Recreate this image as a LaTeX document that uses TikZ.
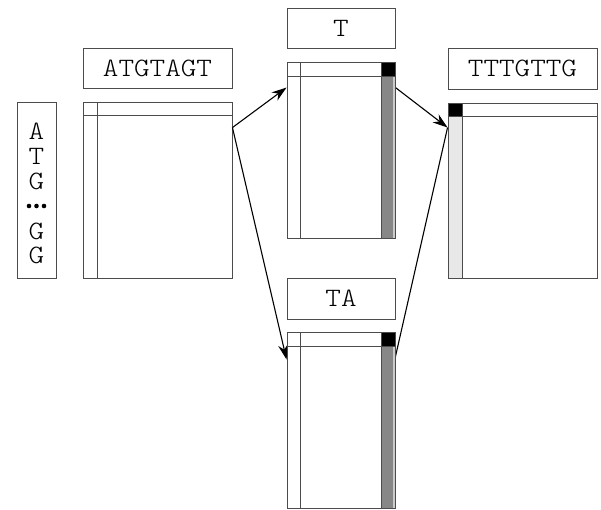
\documentclass[tikz,border=0pt]{standalone}
\usepackage{fontspec}
\setmonofont[FakeStretch=1.12]{Latin Modern Mono Light}
\usetikzlibrary{arrows.meta,calc}

\definecolor{edge}{gray}{0.3}
\definecolor{darkcol}{gray}{0.53}
\definecolor{lightcol}{gray}{0.91}

\tikzset{
  frame/.style={draw=edge, line width=0.9pt, rectangle, inner sep=0pt},
  seqfont/.style={font=\ttfamily\fontsize{26.5}{26.5}\selectfont},
  seqbox/.style={frame, seqfont},
  grid/.style={draw=edge, line width=0.9pt},
  link/.style={draw=black, line width=1.1pt},
  linkarrow/.style={link, -{Stealth[length=15pt,width=10pt]}},
}

\begin{document}
\begin{tikzpicture}[x=1pt,y=-1pt]
\useasboundingbox (0,0) rectangle (601,510);

% sequence labels above the matrices
\node[seqbox, minimum width=149pt, minimum height=40pt] (l1) at (157.5,68) {ATGTAGT};
\node[seqbox, minimum width=108pt, minimum height=40pt] (l2) at (341,28) {T};
\node[seqbox, minimum width=149pt, minimum height=41pt] (l3) at (522.5,68.5) {TTTGTTG};
\node[seqbox, minimum width=108pt, minimum height=41pt] (l4) at (341,298.5) {TA};

% vertical sequence on the left
\node[frame, minimum width=39pt, minimum height=176pt] (col) at (36.5,190) {};
\foreach \ch/\yy in {A/131,T/156,G/181,G/231,G/255}
  \node[seqfont, inner sep=0pt] at (36.5,\yy) {\ch};
\foreach \xx in {29,36.5,44}
  \fill (\xx,206) circle (2.3pt);

% matrix outlines (nodes used as anchors for the connectors)
\node[frame, minimum width=149pt, minimum height=176pt] (m1) at (157.5,190) {};
\node[frame, minimum width=108pt, minimum height=176pt] (m2) at (341,150) {};
\node[frame, minimum width=149pt, minimum height=175pt] (m3) at (522.5,190.5) {};
\node[frame, minimum width=108pt, minimum height=176pt] (m4) at (341,420) {};

% connectors
\coordinate (o1) at ($(m1.north east)+(0,26)$);
\coordinate (i2) at ($(m2.north west)+(0,26)$);
\coordinate (i4) at ($(m4.north west)+(0,28)$);
\coordinate (o2) at ($(m2.north east)+(0,26)$);
\coordinate (o4) at ($(m4.north east)+(0,25)$);
\coordinate (i3) at ($(m3.north west)+(0,25)$);
\draw[linkarrow] (o1) -- (i2);
\draw[linkarrow] (o1) -- (i4);
\draw[link] (o4) -- (i3);
\draw[linkarrow] (o2) -- (i3);

% matrix 1: first row and column
\draw[grid] (83,115) -- (232,115);
\draw[grid] (97,102) -- (97,278);

% matrix 2 and 4: last column shaded, corner cell black
\foreach \top in {62,332}{
  \fill[darkcol] (381,\top+14) rectangle (392.5,\top+176);
  \fill[lightcol!70!darkcol] (392.5,\top+14) rectangle (395,\top+176);
  \fill[black] (381,\top) rectangle (395,\top+14);
  \draw[grid] (287,\top+14) -- (395,\top+14);
  \draw[grid] (300,\top) -- (300,\top+176);
  \draw[grid] (381,\top) -- (381,\top+176);
  \draw[frame] (287,\top) rectangle (395,\top+176);
}

% matrix 3: first column shaded, corner cell black
\fill[lightcol] (448,116) rectangle (462,278);
\fill[black] (448,103) rectangle (462,116);
\draw[grid] (448,116) -- (597,116);
\draw[grid] (462,103) -- (462,278);
\draw[frame] (448,103) rectangle (597,278);

\end{tikzpicture}
\end{document}
